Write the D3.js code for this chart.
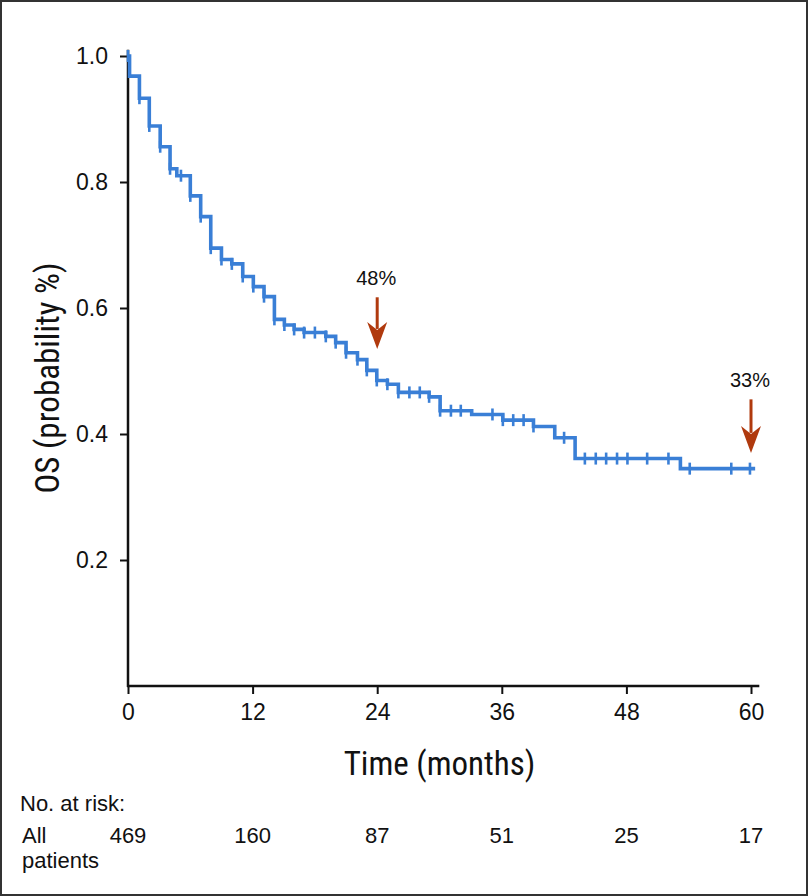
<!DOCTYPE html>
<html lang="en">
<head>
	<meta charset="utf-8">
	<title>OS Kaplan-Meier</title>
	<script src="https://d3js.org/d3.v7.min.js"></script>
	<style>
		body { margin: 0; background: #fff; }
	</style>
</head>
<body>
	<script>
	// step curve: time (months) and survival after each drop
	var stepTimes = [0, 0.15, 1.1, 2.05, 3.1, 4.05, 4.7, 6.0, 7.0, 7.97, 9.0, 10.0, 11.05, 12.07, 13.1, 14.1, 15.06, 16.0, 16.96, 19.05, 20.0, 21.0, 22.1, 23.0, 23.96, 24.98, 26.04, 29.0, 30.06, 33.1, 36.1, 39.05, 41.1, 43.06, 53.2];
	var stepSurv = [1.0, 0.968, 0.933, 0.889, 0.856, 0.821, 0.810, 0.778, 0.745, 0.695, 0.677, 0.670, 0.650, 0.634, 0.618, 0.582, 0.573, 0.566, 0.561, 0.555, 0.545, 0.529, 0.518, 0.501, 0.485, 0.479, 0.466, 0.459, 0.437, 0.431, 0.422, 0.412, 0.394, 0.361, 0.345];
	var lastTime = 60.4;

	// censor marks
	var censorTimes = [0, 1.1, 2.05, 3.1, 4.05, 5.1, 6.0, 7.0, 7.97, 9.0, 10.0, 11.05, 12.07, 13.1, 14.1, 15.06, 16.0, 16.96, 18.0, 19.05, 20.0, 21.0, 22.1, 23.0, 23.96, 24.98, 26.04, 27.1, 28.1, 29.0, 30.06, 31.1, 32.05, 35.1, 36.1, 37.1, 38.1, 39.05, 42.0, 44.0, 45.05, 46.05, 47.1, 48.1, 50.0, 52.05, 54.1, 58.1, 59.9];

	var xTicks = [0, 12, 24, 36, 48, 60];
	var yTicks = [0.2, 0.4, 0.6, 0.8, 1.0];

	// number at risk
	var riskTimes = [0, 12, 24, 36, 48, 60];
	var riskCounts = [469, 160, 87, 51, 25, 17];

	// arrow callouts
	var noteTimes = [24, 60];
	var noteLabels = ["48%", "33%"];
	var noteTop = [0.617, 0.455];   // start of arrow shaft
	var noteTip = [0.535, 0.37];    // arrow tip

	var w = 808, h = 896;
	var blue = "#3a7fd6", rust = "#b03a0e";
	var condFont = "'Roboto Condensed', 'Open Sans', sans-serif";
	var plainFont = "'Liberation Sans', Arial, sans-serif";

	var svg = d3.select("body").append("svg")
		.attr("width", w)
		.attr("height", h);

	// frame round the figure
	svg.append("rect")
		.attr("x", 1).attr("y", 1)
		.attr("width", w - 2).attr("height", h - 2)
		.attr("fill", "none")
		.attr("stroke", "#333")
		.attr("stroke-width", 2);

	var x = d3.scaleLinear().domain([0, 60]).range([128, 751]);
	var y = d3.scaleLinear().domain([0, 1]).range([686, 56]);

	// axes
	var xAxis = svg.append("g")
		.attr("transform", "translate(0," + y(0) + ")")
		.call(d3.axisBottom(x).tickValues(xTicks).tickSize(8).tickPadding(10));
	xAxis.select(".domain").remove();
	xAxis.selectAll(".tick line").attr("stroke-width", 2).attr("stroke", "#111");
	xAxis.selectAll(".tick text").style("font-family", plainFont).attr("font-size", 23).attr("fill", "#111");

	var yAxis = svg.append("g")
		.attr("transform", "translate(" + x(0) + ",0)")
		.call(d3.axisLeft(y).tickValues(yTicks).tickFormat(d3.format(".1f")).tickSize(8).tickPadding(12));
	yAxis.select(".domain").remove();
	yAxis.selectAll(".tick line").attr("stroke-width", 2).attr("stroke", "#111");
	yAxis.selectAll(".tick text").style("font-family", plainFont).attr("font-size", 23).attr("fill", "#111");

	svg.append("line")
		.attr("x1", x(0)).attr("x2", x(0))
		.attr("y1", y(1.01)).attr("y2", y(0) + 1)
		.attr("stroke", "#111").attr("stroke-width", 2.5);
	svg.append("line")
		.attr("x1", x(0) - 1).attr("x2", x(60.8))
		.attr("y1", y(0)).attr("y2", y(0))
		.attr("stroke", "#111").attr("stroke-width", 2.5);

	// axis titles
	svg.append("text")
		.style("font-family", condFont)
		.attr("text-anchor", "middle")
		.attr("font-size", 33)
		.attr("fill", "#111")
		.attr("transform", "translate(59,378) rotate(-90)")
		.text("OS (probability %)");

	svg.append("text")
		.style("font-family", condFont)
		.attr("text-anchor", "middle")
		.attr("font-size", 33)
		.attr("fill", "#111")
		.attr("x", (x(0) + x(60)) / 2)
		.attr("y", 775)
		.text("Time (months)");

	// KM curve
	var pts = stepTimes.map(function(t, i) { return [t, stepSurv[i]]; });
	pts.push([lastTime, stepSurv[stepSurv.length - 1]]);

	var line = d3.line()
		.x(function(d) { return x(d[0]); })
		.y(function(d) { return y(d[1]); })
		.curve(d3.curveStepAfter);

	svg.append("path")
		.datum(pts)
		.attr("d", line)
		.attr("fill", "none")
		.attr("stroke", blue)
		.attr("stroke-width", 3.6)
		.attr("stroke-linejoin", "miter");

	function survAt(t) {
		var i = d3.bisectRight(stepTimes, t) - 1;
		return stepSurv[Math.max(0, i)];
	}

	svg.selectAll("line.censor")
		.data(censorTimes)
		.enter()
		.append("line")
		.attr("class", "censor")
		.attr("x1", function(d) { return x(d); })
		.attr("x2", function(d) { return x(d); })
		.attr("y1", function(d) { return y(survAt(d)) - 6; })
		.attr("y2", function(d) { return y(survAt(d)) + 6; })
		.attr("stroke", blue)
		.attr("stroke-width", 2.6);

	// arrows with percentage labels
	var notes = svg.selectAll("g.note")
		.data(noteTimes)
		.enter()
		.append("g")
		.attr("class", "note");

	notes.append("line")
		.attr("x1", function(d) { return x(d); })
		.attr("x2", function(d) { return x(d); })
		.attr("y1", function(d, i) { return y(noteTop[i]); })
		.attr("y2", function(d, i) { return y(noteTip[i]) - 20; })
		.attr("stroke", rust)
		.attr("stroke-width", 3);

	notes.append("path")
		.attr("d", function(d, i) {
			var cx = x(d), ty = y(noteTip[i]);
			return "M" + (cx - 10) + "," + (ty - 27) + "L" + cx + "," + (ty - 19) + "L" + (cx + 10) + "," + (ty - 27) + "L" + cx + "," + ty + "Z";
		})
		.attr("fill", rust);

	notes.append("text")
		.attr("x", function(d) { return x(d) - 1; })
		.attr("y", function(d, i) { return y(noteTop[i]) - 12; })
		.attr("text-anchor", "middle")
		.style("font-family", plainFont)
		.attr("font-size", 20)
		.attr("fill", "#111")
		.text(function(d, i) { return noteLabels[i]; });

	// number at risk table
	var tableRows = [["No. at risk:", 20, 811], ["All", 22, 843], ["patients", 22, 868]];
	svg.selectAll("text.rowlab")
		.data(tableRows)
		.enter()
		.append("text")
		.attr("class", "rowlab")
		.style("font-family", plainFont)
		.attr("x", function(d) { return d[1]; })
		.attr("y", function(d) { return d[2]; })
		.attr("font-size", 22)
		.attr("fill", "#111")
		.text(function(d) { return d[0]; });

	svg.selectAll("text.risk")
		.data(riskCounts)
		.enter()
		.append("text")
		.attr("class", "risk")
		.style("font-family", plainFont)
		.attr("x", function(d, i) { return x(riskTimes[i]); })
		.attr("y", 843)
		.attr("text-anchor", "middle")
		.attr("font-size", 22)
		.attr("fill", "#111")
		.text(function(d) { return d; });
	</script>
</body>
</html>
